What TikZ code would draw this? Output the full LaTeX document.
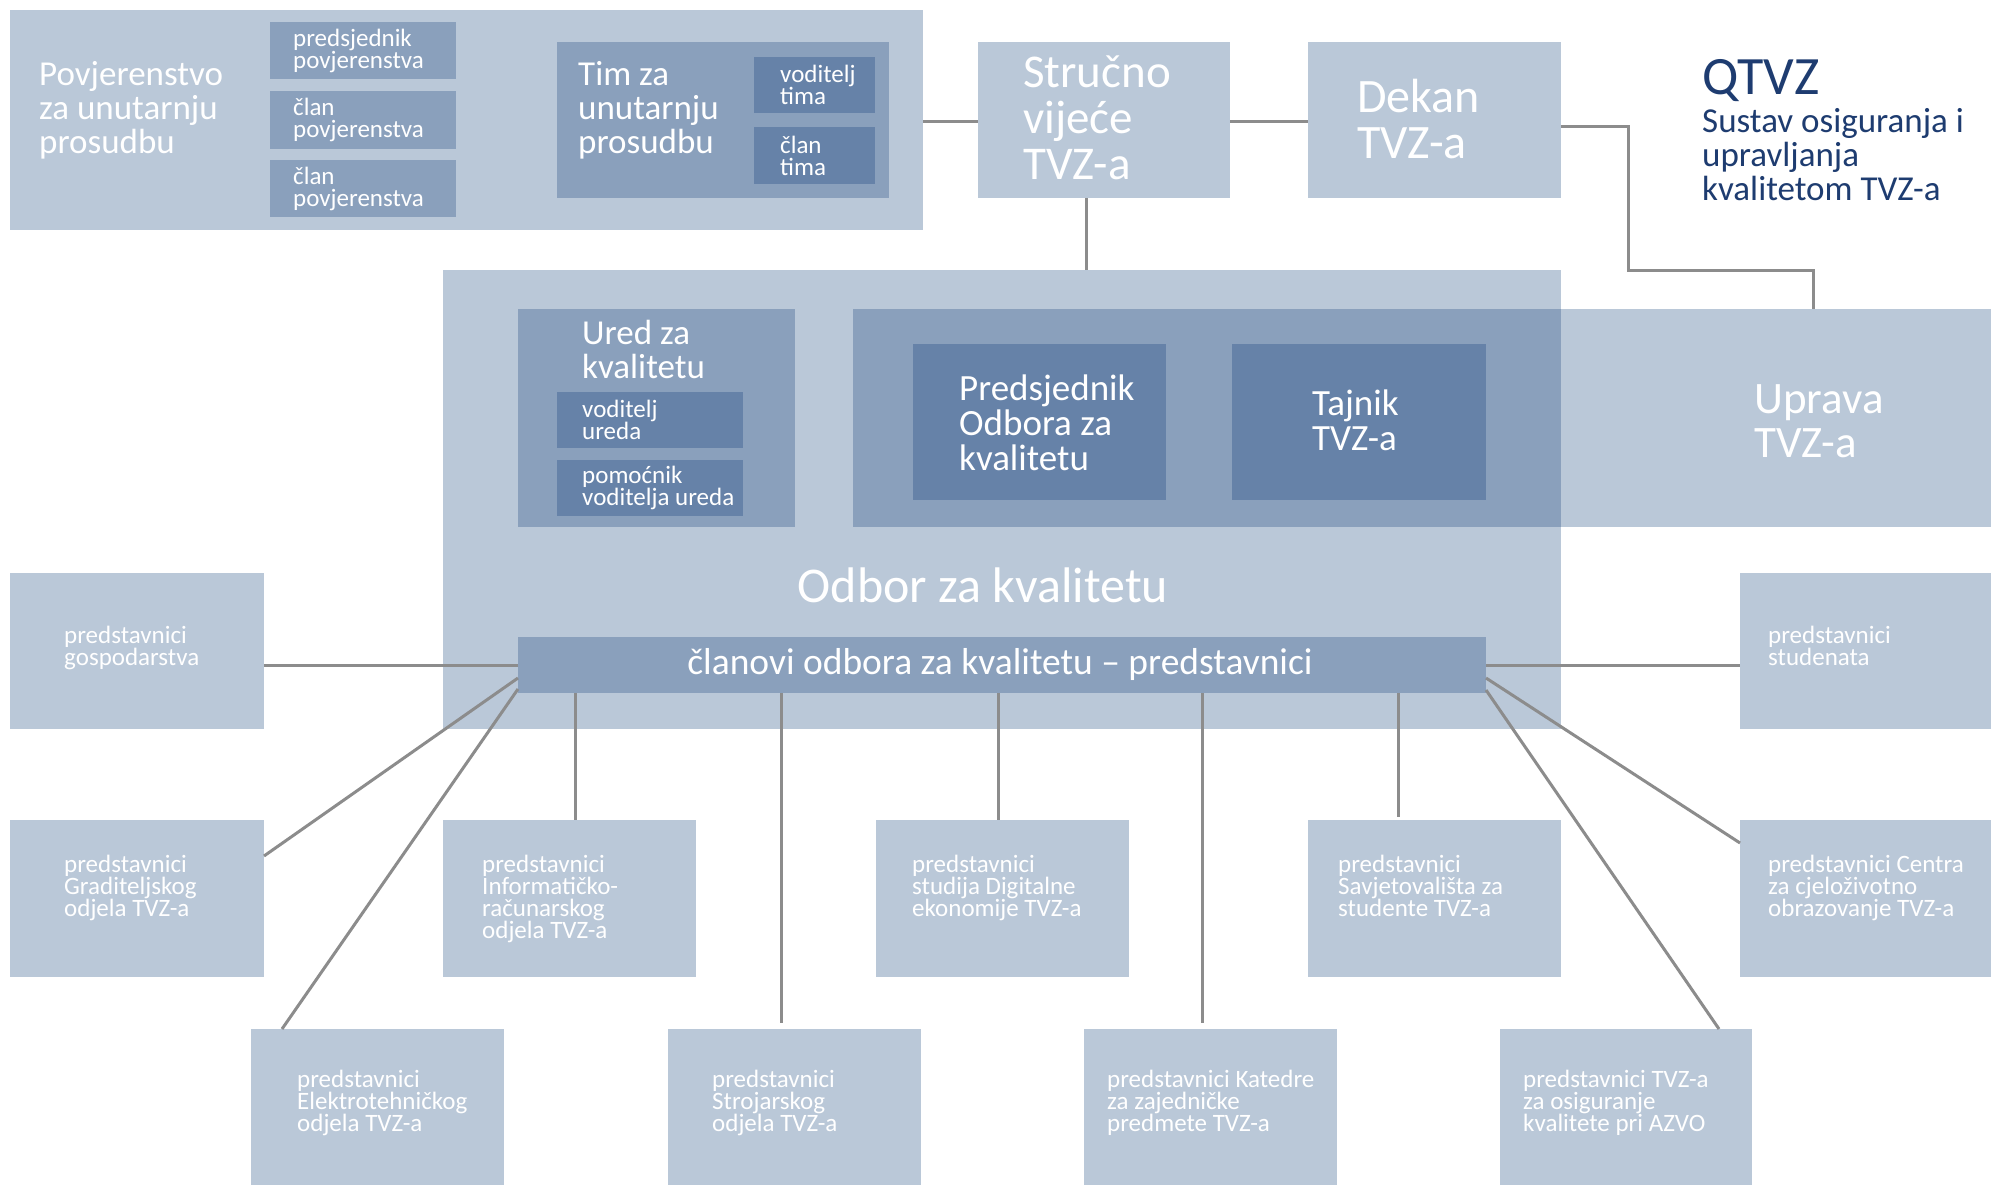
\documentclass[tikz,border=0pt]{standalone}
\usepackage{fontspec}
\setmainfont{Carlito}
\definecolor{cLight}{RGB}{186,200,216}
\definecolor{cMed}{RGB}{138,160,188}
\definecolor{cDark}{RGB}{102,130,168}
\definecolor{cLine}{RGB}{140,140,140}
\definecolor{cTitle}{RGB}{30,60,112}
\newcommand{\fs}[2]{\fontsize{#1}{#2}\selectfont}
\newcommand{\rbox}[6]{\node[#2,anchor=north west,minimum width={(#5-#3)*1pt},minimum height={(#6-#4)*1pt}] (#1) at (#3,#4) {};}
\begin{document}
\begin{tikzpicture}[x=1pt,y=-1pt,
  boxbase/.style={inner sep=0pt,outer sep=0pt,draw=none,rectangle},
  lightbox/.style={boxbase,fill=cLight},
  medbox/.style={boxbase,fill=cMed},
  darkbox/.style={boxbase,fill=cDark},
  conn/.style={draw=cLine,line width=3pt},
  wtxt/.style={text=white,inner sep=0pt,align=left},
  small/.style={wtxt,font=\fs{25}{22}},
  rep/.style={wtxt,font=\fs{25}{22},anchor=north west}]
\fill[white] (0,0) rectangle (1991,1185);
\useasboundingbox (0,0) rectangle (1991,1185);
% ---------- top row ----------
\rbox{povj}{lightbox}{10}{10}{923}{230}
\node[wtxt,font=\fs{35}{34},anchor=west] (povjT) at (39,110) {Povjerenstvo\\za unutarnju\\prosudbu};
\rbox{pp1}{medbox}{270}{22}{456}{79}
\rbox{pp2}{medbox}{270}{91}{456}{149}
\rbox{pp3}{medbox}{270}{160}{456}{217}
\node[small,anchor=west] (pp1T) at (293,51) {predsjednik\\povjerenstva};
\node[small,anchor=west] (pp2T) at (293,120) {član\\povjerenstva};
\node[small,anchor=west] (pp3T) at (293,189) {član\\povjerenstva};
\rbox{tim}{medbox}{557}{42}{889}{198}
\node[wtxt,font=\fs{35}{34},anchor=west] (timT) at (578,110) {Tim za\\unutarnju\\prosudbu};
\rbox{vt}{darkbox}{754}{57}{875}{113}
\rbox{ct}{darkbox}{754}{127}{875}{184}
\node[small,anchor=west] (vtT) at (780,85) {voditelj\\tima};
\node[small,anchor=west] (ctT) at (780,156) {član\\tima};
\rbox{struc}{lightbox}{978}{42}{1230}{198}
\node[wtxt,font=\fs{47}{46},anchor=west] (strucT) at (1023,118) {Stručno\\vijeće\\TVZ-a};
\rbox{dekan}{lightbox}{1308}{42}{1561}{198}
\node[wtxt,font=\fs{48}{46},anchor=west] (dekanT) at (1357,119) {Dekan\\TVZ-a};
\node[inner sep=0pt,text=cTitle,font=\fs{54}{54},anchor=west] (qtvz) at (1702,81) {QTVZ};
\node[inner sep=0pt,text=cTitle,font=\fs{35}{34},anchor=west,align=left] (qsub) at (1702,155) {Sustav osiguranja i\\upravljanja\\kvalitetom TVZ-a};
% ---------- Odbor ----------
\rbox{odbor}{lightbox}{443}{270}{1561}{729}
\rbox{uprava}{lightbox}{853}{309}{1991}{527}
\fill[cMed] (uprava.north west) rectangle (odbor.east |- uprava.south);
\node[wtxt,font=\fs{45}{44},anchor=west] (upravaT) at (1754,421) {Uprava\\TVZ-a};
\rbox{ured}{medbox}{518}{309}{795}{527}
\node[wtxt,font=\fs{35}{34},anchor=west] (uredT) at (582,349) {Ured za\\kvalitetu};
\rbox{vu}{darkbox}{557}{392}{743}{448}
\rbox{pu}{darkbox}{557}{460}{743}{516}
\node[small,anchor=west] (vuT) at (582,420) {voditelj\\ureda};
\node[small,anchor=west] (puT) at (582,488) {pomoćnik\\voditelja ureda};
\rbox{pred}{darkbox}{913}{344}{1166}{500}
\node[wtxt,font=\fs{37}{35},anchor=west] (predT) at (959,423) {Predsjednik\\Odbora za\\kvalitetu};
\rbox{taj}{darkbox}{1232}{344}{1486}{500}
\node[wtxt,font=\fs{37}{35},anchor=west] (tajT) at (1312,420) {Tajnik\\TVZ-a};
\node[wtxt,font=\fs{50}{50}] (odborT) at (983,585) {Odbor za kvalitetu};
\rbox{clan}{medbox}{518}{637}{1486}{693}
\node[wtxt,font=\fs{37.5}{37.5}] (clanT) at (1000,664) {članovi odbora za kvalitetu – predstavnici};
% ---------- representative boxes ----------
\rbox{gosp}{lightbox}{10}{573}{264}{729}
\rbox{stud}{lightbox}{1740}{573}{1991}{729}
\rbox{grad}{lightbox}{10}{820}{264}{977}
\rbox{inf}{lightbox}{443}{820}{696}{977}
\rbox{dig}{lightbox}{876}{820}{1129}{977}
\rbox{sav}{lightbox}{1308}{820}{1561}{977}
\rbox{cent}{lightbox}{1740}{820}{1991}{977}
\rbox{elek}{lightbox}{251}{1029}{504}{1185}
\rbox{stroj}{lightbox}{668}{1029}{921}{1185}
\rbox{kat}{lightbox}{1084}{1029}{1337}{1185}
\rbox{azvo}{lightbox}{1500}{1029}{1752}{1185}
\node[rep] (gospT) at (64,626) {predstavnici\\gospodarstva};
\node[rep] (studT) at (1768,626) {predstavnici\\studenata};
\node[rep] (gradT) at (64,855) {predstavnici\\Graditeljskog\\odjela TVZ-a};
\node[rep] (infT) at (482,855) {predstavnici\\Informatičko-\\računarskog\\odjela TVZ-a};
\node[rep] (digT) at (912,855) {predstavnici\\studija Digitalne\\ekonomije TVZ-a};
\node[rep] (savT) at (1338,855) {predstavnici\\Savjetovališta za\\studente TVZ-a};
\node[rep] (centT) at (1768,855) {predstavnici Centra\\za cjeloživotno\\obrazovanje TVZ-a};
\node[rep] (elekT) at (297,1070) {predstavnici\\Elektrotehničkog\\odjela TVZ-a};
\node[rep] (strojT) at (712,1070) {predstavnici\\Strojarskog\\odjela TVZ-a};
\node[rep] (katT) at (1107,1070) {predstavnici Katedre\\za zajedničke\\predmete TVZ-a};
\node[rep] (azvoT) at (1523,1070) {predstavnici TVZ-a\\za osiguranje\\kvalitete pri AZVO};
% ---------- connectors ----------
\coordinate (vstr) at (1086,0);
\coordinate (turn) at (1628,270);
\coordinate (vupr) at (1813,0);
\coordinate (vinf) at (575,0);
\coordinate (vstroj) at (781,0);
\coordinate (vdig) at (998,0);
\coordinate (vkat) at (1202,0);
\coordinate (vsav) at (1398,0);
\draw[conn] ([yshift=-2pt]povj.east |- struc.west) -- ([yshift=-2pt]struc.west);
\draw[conn] ([yshift=-2pt]struc.east) -- ([yshift=-2pt]dekan.west);
\draw[conn] ([yshift=-7pt]dekan.east) -| (turn) -| (uprava.north -| vupr);
\draw[conn] (struc.south -| vstr) -- (odbor.north -| vstr);
\draw[conn] (clan.west) -- (clan.west -| gosp.east);
\draw[conn] (clan.east) -- (clan.east -| stud.west);
\draw[conn] ([yshift=-13pt]clan.west) -- ([yshift=-36pt]grad.north east);
\draw[conn] ([yshift=-24pt]clan.west) -- ([xshift=31pt]elek.north west);
\draw[conn] (clan.south -| vinf) -- (inf.north -| vinf);
\draw[conn,shorten >=6pt] (clan.south -| vstroj) -- (stroj.north -| vstroj);
\draw[conn] (clan.south -| vdig) -- (dig.north -| vdig);
\draw[conn,shorten >=6pt] (clan.south -| vkat) -- (kat.north -| vkat);
\draw[conn,shorten >=3pt] (clan.south -| vsav) -- (sav.north -| vsav);
\draw[conn] ([yshift=-13pt]clan.east) -- ([yshift=-23pt]cent.north west);
\draw[conn] ([yshift=-25pt]clan.east) -- ([xshift=-33pt]azvo.north east);
\end{tikzpicture}
\end{document}
